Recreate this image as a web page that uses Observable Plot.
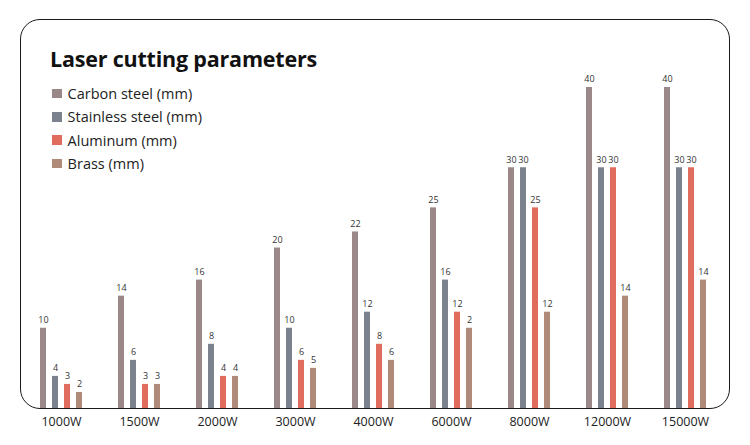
<!DOCTYPE html>
<html><head><meta charset="utf-8">
<script src="https://cdn.jsdelivr.net/npm/d3@7"></script>
<script src="https://cdn.jsdelivr.net/npm/@observablehq/plot@0.6"></script>
<style>
body{margin:0;background:#fff;font-family:"Open Sans",sans-serif;}
#wrap{position:relative;width:750px;height:445px;overflow:hidden;background:#fff}
#box{position:absolute;left:20px;top:19px;width:710px;height:390px;border:1.5px solid #1a1a1a;border-radius:20px;box-sizing:border-box}
#chart{position:absolute;left:0;top:0}
#title{position:absolute;left:50px;top:48px;font-size:21.5px;line-height:21px;font-weight:700;color:#111;white-space:nowrap;letter-spacing:-0.2px}
#legend{position:absolute;left:52px;top:82px}
.item{display:flex;align-items:center;height:23.3px;font-size:14.5px;color:#222;white-space:nowrap}
.sw{width:9.6px;height:9.6px;margin-right:6px;flex:none}
</style></head>
<body>
<div id="wrap">
  <div id="box"></div>
  <div id="chart"></div>
  <div id="title">Laser cutting parameters</div>
  <div id="legend"></div>
</div>
<script>
const powers = ["1000W","1500W","2000W","3000W","4000W","6000W","8000W","12000W","15000W"];
const materials = ["Carbon steel (mm)","Stainless steel (mm)","Aluminum (mm)","Brass (mm)"];
const carbon    = [10,14,16,20,22,25,30,40,40];
const stainless = [4,6,8,10,12,16,30,30,30];
const aluminum  = [3,3,4,6,8,12,25,30,30];
const brass     = [2,3,4,5,6,10,12,14,16];           // bar heights as drawn
const brassLabels = ["2","3","4","5","6","2","12","14","14"]; // labels as printed
const colors = ["#9a8788","#7b818d","#df6c5d","#b08a78"];

const series = [carbon, stainless, aluminum, brass];
const rows = [];
powers.forEach((p, i) => {
  materials.forEach((m, j) => {
    const v = series[j][i];
    rows.push({power: p, material: m, value: v, label: j === 3 ? brassLabels[i] : String(v)});
  });
});

const chart = Plot.plot({
  width: 750, height: 445,
  marginLeft: 11, marginRight: 14, marginTop: 87, marginBottom: 37,
  style: {fontFamily: "Open Sans, sans-serif", background: "transparent"},
  fx: {domain: powers, paddingInner: 0.255, paddingOuter: 0.255, label: null},
  x: {domain: materials, axis: null, padding: 0.485},
  y: {domain: [0, 40], axis: null},
  color: {domain: materials, range: colors},
  marks: [
    Plot.barY(rows, {fx: "power", x: "material", y: "value", fill: "material"}),
    Plot.text(rows, {fx: "power", x: "material", y: "value", text: "label", dy: -8, fontSize: 9, fill: "#333"}),
    Plot.axisFx({anchor: "bottom", tickSize: 0, tickPadding: 9, fontSize: 12.5, fill: "#222", label: null})
  ]
});
document.getElementById("chart").appendChild(chart);

const leg = document.getElementById("legend");
materials.forEach((m, j) => {
  const d = document.createElement("div");
  d.className = "item";
  const s = document.createElement("span");
  s.className = "sw";
  s.style.background = colors[j];
  d.appendChild(s);
  d.appendChild(document.createTextNode(m));
  leg.appendChild(d);
});
</script>
</body></html>
